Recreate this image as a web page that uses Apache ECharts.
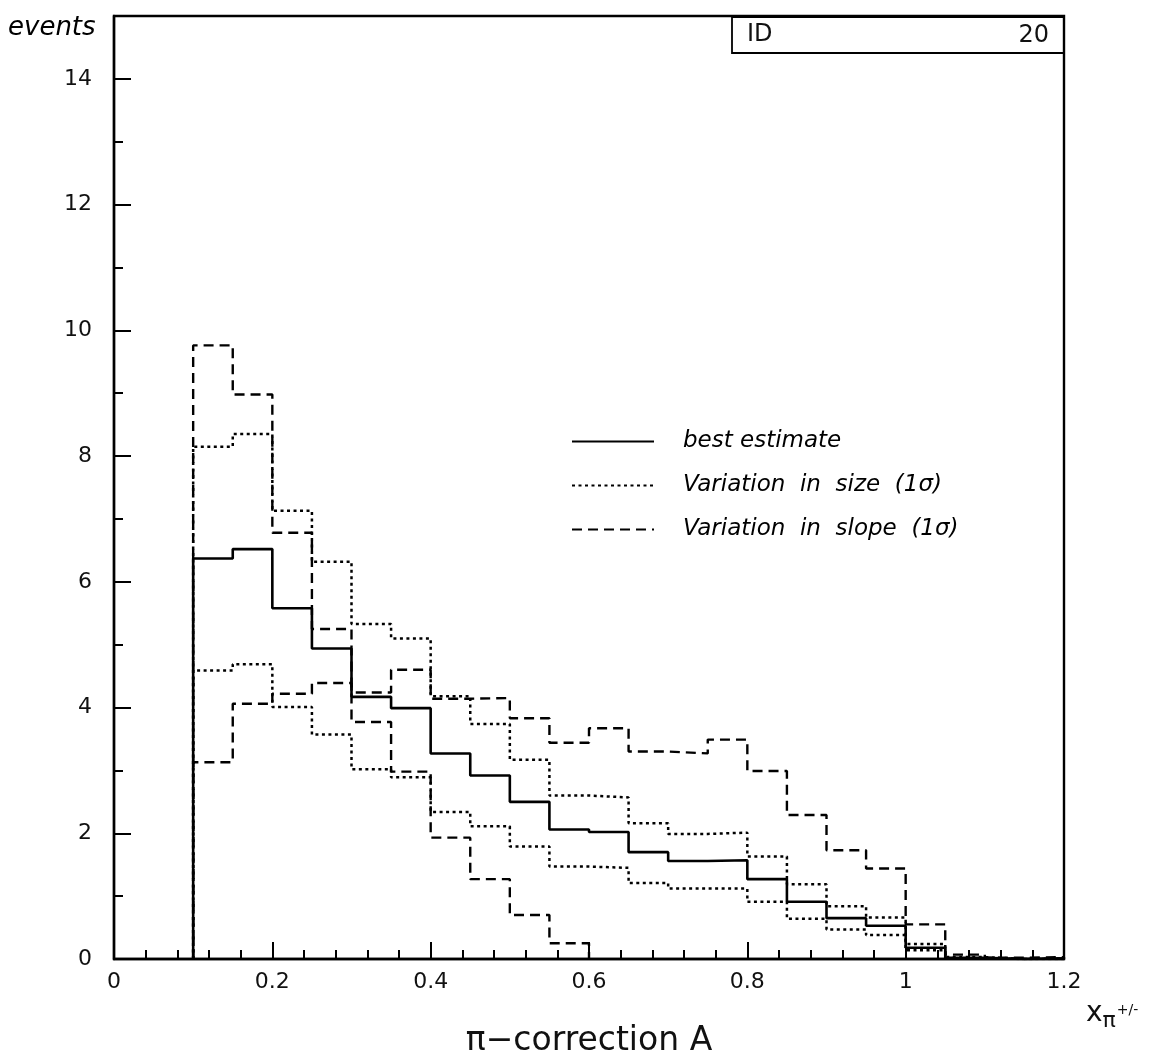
<!DOCTYPE html>
<html>
<head>
<meta charset="utf-8">
<script src="https://cdn.jsdelivr.net/npm/echarts@6/dist/echarts.min.js"></script>
<style>
  html, body { margin: 0; padding: 0; background: #fff; }
  #chart { width: 1168px; height: 1062px; }
</style>
</head>
<body>
<div id="chart"></div>
<script>
// Bin edges of the x_pi histogram (bins of width 0.05)
const binEdges = [0.10, 0.15, 0.20, 0.25, 0.30, 0.35, 0.40, 0.45, 0.50, 0.55, 0.60,
                  0.65, 0.70, 0.75, 0.80, 0.85, 0.90, 0.95, 1.00, 1.05, 1.10, 1.15, 1.20];

// Bin contents (events per bin)
const bestEstimate = [6.37, 6.52, 5.58, 4.94, 4.17, 3.99, 3.27, 2.92, 2.50, 2.06, 2.02,
                      1.70, 1.56, 1.57, 1.27, 0.91, 0.65, 0.53, 0.18, 0.02, 0.00, 0.01];
const sizeUp       = [8.15, 8.35, 7.13, 6.32, 5.33, 5.10, 4.18, 3.74, 3.17, 2.60, 2.57,
                      2.16, 1.99, 2.01, 1.63, 1.19, 0.84, 0.66, 0.24, 0.03, 0.00, 0.01];
const sizeDown     = [4.59, 4.69, 4.01, 3.57, 3.02, 2.89, 2.34, 2.11, 1.79, 1.47, 1.45,
                      1.21, 1.12, 1.12, 0.91, 0.64, 0.47, 0.38, 0.14, 0.01, 0.00, 0.00];
const slopeSteep   = [9.76, 8.98, 6.78, 5.25, 3.77, 2.98, 1.93, 1.27, 0.70, 0.25];
const slopeFlat    = [3.13, 4.06, 4.22, 4.39, 4.24, 4.60, 4.14, 4.15, 3.83, 3.44, 3.67,
                      3.30, 3.27, 3.49, 2.99, 2.29, 1.73, 1.44, 0.55, 0.07, 0.02, 0.03];

// Axis ticks
const xTicks = { min: 0, max: 1.2, major: 0.2, minorSplit: 5 };
const yTicks = { min: 0, max: 15, major: 2, minor: 1 };

const NAME_BEST  = 'best estimate';
const NAME_SIZE  = 'Variation  in  size  (1σ)';
const NAME_SLOPE = 'Variation  in  slope  (1σ)';

// Turn bin contents into a step outline: up at the first edge, down after the last bin
function outline(values) {
  const pts = [[binEdges[0], 0]];
  values.forEach((v, i) => pts.push([binEdges[i], v]));
  pts.push([binEdges[values.length], 0]);
  return pts;
}

const FONT = 'DejaVu Sans';
const INK = '#000';
const DOTS = [3, 3.5];
const DASHES = [10, 6];

function histSeries(name, values, type, width) {
  return {
    name: name,
    type: 'line',
    step: 'end',
    data: outline(values),
    symbol: 'none',
    showSymbol: false,
    silent: true,
    animation: false,
    lineStyle: { color: INK, width: width, type: type, cap: 'butt' },
    itemStyle: { color: INK }
  };
}

const chart = echarts.init(document.getElementById('chart'), null, { renderer: 'canvas' });

chart.setOption({
  backgroundColor: '#fff',
  animation: false,
  grid: {
    left: 114, right: 104, top: 16, bottom: 103,
    show: true, borderColor: INK, borderWidth: 2.4,
    containLabel: false, outerBoundsMode: 'none'
  },
  xAxis: {
    type: 'value',
    min: xTicks.min, max: xTicks.max, interval: xTicks.major,
    name: 'π−correction A',
    nameLocation: 'middle',
    nameGap: 66,
    nameTextStyle: { fontFamily: FONT, fontSize: 33, color: '#111' },
    axisLine: { show: true, lineStyle: { color: INK, width: 2.4 } },
    axisTick: { show: true, inside: true, length: 17, lineStyle: { color: INK, width: 2 } },
    minorTick: { show: true, splitNumber: xTicks.minorSplit, length: 9, lineStyle: { color: INK, width: 2 } },
    splitLine: { show: false },
    axisLabel: { margin: 12, fontFamily: FONT, fontSize: 22, color: '#111' }
  },
  yAxis: [
    {
      type: 'value',
      position: 'left',
      min: yTicks.min, max: yTicks.max, interval: yTicks.major,
      axisLine: { show: true, lineStyle: { color: INK, width: 2.4 } },
      axisTick: { show: true, inside: true, length: 17, lineStyle: { color: INK, width: 2 } },
      splitLine: { show: false },
      axisLabel: { margin: 22, fontFamily: FONT, fontSize: 22, color: '#111', showMaxLabel: false }
    },
    {
      type: 'value',
      position: 'left',
      offset: 0,
      min: yTicks.min, max: yTicks.max, interval: yTicks.minor,
      axisLine: { show: false },
      axisTick: { show: true, inside: true, length: 9, lineStyle: { color: INK, width: 2 } },
      splitLine: { show: false },
      axisLabel: { show: false }
    }
  ],
  legend: {
    orient: 'vertical',
    left: 566,
    top: 424,
    itemWidth: 82,
    itemHeight: 14,
    itemGap: 19,
    selectedMode: false,
    itemStyle: { opacity: 0 },
    data: [NAME_BEST, NAME_SIZE, NAME_SLOPE],
    textStyle: {
      fontFamily: FONT, fontStyle: 'italic', fontSize: 23, color: INK,
      lineHeight: 25, padding: [0, 0, 0, 24]
    }
  },
  graphic: [
    {
      type: 'text',
      left: 8, top: 15,
      style: { text: 'events', fontFamily: FONT, fontStyle: 'italic', fontSize: 26, fill: INK }
    },
    {
      type: 'rect',
      shape: { x: 732, y: 17, width: 332, height: 36 },
      style: { fill: 'none', stroke: INK, lineWidth: 1.8 }
    },
    {
      type: 'text',
      style: { x: 747, y: 35, text: 'ID', fontFamily: FONT, fontSize: 24, fill: '#111', verticalAlign: 'middle' }
    },
    {
      type: 'text',
      style: { x: 1049, y: 36, text: '20', fontFamily: FONT, fontSize: 24, fill: '#111', align: 'right', verticalAlign: 'middle' }
    },
    {
      type: 'text',
      style: {
        x: 1086, y: 998,
        text: '{x|x}{p|π}{s|+/-}',
        rich: {
          x: { fontFamily: FONT, fontSize: 28, fill: '#111', lineHeight: 32 },
          p: { fontFamily: FONT, fontSize: 22, fill: '#111', padding: [14, 0, 0, 0], lineHeight: 32 },
          s: { fontFamily: FONT, fontSize: 14, fill: '#111', padding: [0, 0, 8, 1], lineHeight: 32 }
        }
      }
    }
  ],
  series: [
    histSeries(NAME_SIZE, sizeUp, DOTS, 2.5),
    histSeries(NAME_SIZE, sizeDown, DOTS, 2.5),
    histSeries(NAME_SLOPE, slopeSteep, DASHES, 2.4),
    histSeries(NAME_SLOPE, slopeFlat, DASHES, 2.4),
    histSeries(NAME_BEST, bestEstimate, 'solid', 2.6)
  ]
});
</script>
</body>
</html>
